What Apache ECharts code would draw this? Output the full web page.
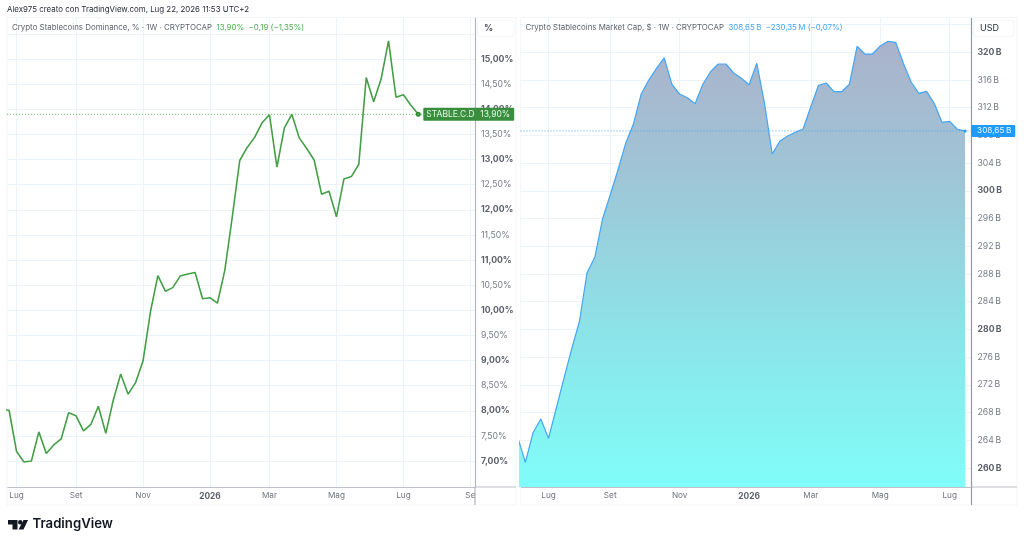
<!DOCTYPE html>
<html>
<head>
<meta charset="utf-8">
<title>Crypto Stablecoins</title>
<script src="https://cdn.jsdelivr.net/npm/echarts@6/dist/echarts.min.js"></script>
<style>
html, body { margin: 0; padding: 0; background: #fff; }
#main { width: 1024px; height: 545px; }
</style>
</head>
<body>
<div id="main"></div>
<script>
// weekly values, first entry sits at the week number in *Start
const dominanceStart = -1;
const dominanceValues = [8.02, 8.01, 7.19, 6.98, 7.00, 7.58, 7.15, 7.32, 7.44, 7.96, 7.90, 7.60, 7.73, 8.09, 7.55, 8.21, 8.73, 8.33, 8.56, 8.99, 9.97, 10.69, 10.38, 10.45, 10.68, 10.72, 10.75, 10.23, 10.25, 10.14, 10.80, 11.86, 12.98, 13.24, 13.44, 13.73, 13.89, 12.85, 13.63, 13.90, 13.43, 13.22, 12.99, 12.31, 12.37, 11.86, 12.61, 12.66, 12.90, 14.63, 14.15, 14.60, 15.36, 14.24, 14.29, 14.08, 13.90];
const capStart = -4;
const capValues = [264.47, 260.82, 265.09, 267.07, 264.28, 268.61, 272.94, 277.17, 281.11, 288.19, 290.41, 295.94, 299.40, 303.01, 306.86, 309.61, 313.94, 316.00, 317.69, 319.18, 315.38, 313.98, 313.45, 312.58, 315.38, 317.20, 318.31, 318.31, 317.01, 316.25, 315.32, 318.41, 312.64, 305.32, 307.20, 307.92, 308.45, 308.93, 312.15, 315.24, 315.57, 314.31, 314.31, 315.38, 320.87, 319.75, 319.75, 320.91, 321.59, 321.44, 318.41, 315.71, 314.08, 314.37, 312.64, 309.89, 310.04, 308.89, 308.65];

const monthLabels = ['Lug', 'Set', 'Nov', '2026', 'Mar', 'Mag', 'Lug', 'Se'];
const dominanceMonthWeeks = [1, 9, 18, 27, 35, 44, 53, 62];
const capMonthWeeks = [0, 8, 17, 26, 34, 43, 52];

const dominanceTicks = [7, 7.5, 8, 8.5, 9, 9.5, 10, 10.5, 11, 11.5, 12, 12.5, 13, 13.5, 14, 14.5, 15, 15.5];
const capTicks = [260, 264, 268, 272, 276, 280, 284, 288, 292, 296, 300, 304, 308, 312, 316, 320, 324];

const FONT = 'Inter, "Liberation Sans", sans-serif';
const GRID_COLOR = '#edf4f9';
const FRAME_COLOR = '#f3f5f8';
const AXIS_COLOR = '#bfc2ca';
const GREEN = '#43a047';
const BLUE = '#42a5f5';

const DOM_X_MIN = -0.28, DOM_X_MAX = 62.62;
const CAP_X_MIN = -3.63, CAP_X_MAX = 54.83;

function comma(v, digits){
    return v.toFixed(digits).replace('.', ',');
}

function toPairs(start, values){
    return values.map(function(v, i){ return [start + i, v]; });
}

function xAxisFor(gridIndex, min, max, weeks){
    return {
        type: 'value', gridIndex: gridIndex, min: min, max: max,
        axisLine: { onZero: false, lineStyle: { color: AXIS_COLOR, width: 1.2 } },
        axisTick: { show: false, customValues: weeks },
        splitLine: { show: true, lineStyle: { color: GRID_COLOR, width: 1 } },
        axisLabel: {
            customValues: weeks, margin: 5, color: '#70737e', fontSize: 8.2, fontFamily: FONT,
            showMinLabel: true, showMaxLabel: true, hideOverlap: false,
            formatter: function(v){
                let label = monthLabels[weeks.indexOf(v)];
                return label === '2026' ? '{b|2026}' : label;
            },
            rich: { b: { fontWeight: 'bold', fontSize: 8.4, color: '#5d606b', fontFamily: FONT } }
        }
    };
}

function yAxisFor(gridIndex, min, max, ticks, format, lineColor){
    return {
        type: 'value', gridIndex: gridIndex, position: 'right', min: min, max: max,
        axisLine: { show: true, onZero: false, lineStyle: { color: lineColor, width: 1.2 } },
        axisTick: { show: false, customValues: ticks },
        splitLine: { show: true, lineStyle: { color: GRID_COLOR, width: 1 } },
        axisLabel: {
            customValues: ticks, margin: 6, color: '#787b86', fontSize: 8.7, fontFamily: FONT,
            formatter: format,
            rich: { b: { fontWeight: 'bold', fontSize: 8.7, color: '#5d606b', fontFamily: FONT } }
        }
    };
}

function formatDominance(v){
    if(v === 15.5) return '';
    let text = comma(v, 2) + '%';
    return v % 1 === 0 ? '{b|' + text + '}' : text;
}

function formatCap(v){
    if(v === 324) return '';
    let text = v + '\u2009B';
    return v % 20 === 0 ? '{b|' + text + '}' : text;
}

function lastPointOnly(count, size){
    return function(value, params){
        return params.dataIndex === count - 1 ? size : 0;
    };
}

function frameLine(x1, y1, x2, y2, color, width){
    return { type: 'line', silent: true, z: 1, shape: { x1: x1, y1: y1, x2: x2, y2: y2 }, style: { stroke: color, lineWidth: width } };
}

function headerText(left, parts){
    return { left: left, top: 24, textStyle: { fontSize: 7.9, fontFamily: FONT, color: '#60636e', fontWeight: 'normal', rich: parts.rich }, text: parts.text, padding: 0 };
}

// dotted last-price line across a pane
function priceLine(axisIndex, xMin, xMax, value, color){
    return {
        type: 'line', xAxisIndex: axisIndex, yAxisIndex: axisIndex, silent: true, z: 6,
        showSymbol: false,
        data: [[xMin, value], [xMax, value]],
        lineStyle: { color: color, type: [1, 2], width: 1 }
    };
}

let option = {
    animation: false,
    backgroundColor: '#fff',
    title: [
        { left: 7, top: 6, padding: 0, text: 'Alex975 creato con TradingView.com, Lug 22, 2026 11:53 UTC+2', textStyle: { fontSize: 7.9, fontWeight: 'normal', color: '#2a2e39', fontFamily: FONT } },
        headerText(12, {
            text: 'Crypto Stablecoins Dominance, % · 1W · CRYPTOCAP  {g|13,90%  −0,19 (−1,35%)}',
            rich: { g: { color: '#4caf50', fontSize: 7.9, fontFamily: FONT } }
        }),
        headerText(525.5, {
            text: 'Crypto Stablecoins Market Cap, $ · 1W · CRYPTOCAP  {c|308,65\u2009B  −230,35\u2009M (−0,07%)}',
            rich: { c: { color: '#3ea6ff', fontSize: 7.9, fontFamily: FONT } }
        }),
        { left: 484, top: 24, padding: 0, text: '%', textStyle: { fontSize: 9, fontWeight: 'bold', color: '#50535e', fontFamily: FONT } },
        { left: 980, top: 24, padding: 0, text: 'USD', textStyle: { fontSize: 9, fontWeight: 'normal', color: '#2a2e39', fontFamily: FONT } },
        { left: 32.5, top: 518, padding: 0, text: 'TradingView', textStyle: { fontSize: 13.2, fontWeight: 600, color: '#131722', fontFamily: FONT } }
    ],
    grid: [
        { left: 7, width: 468, top: 18, height: 469 },
        { left: 520.5, width: 451, top: 18, height: 469 }
    ],
    xAxis: [
        xAxisFor(0, DOM_X_MIN, DOM_X_MAX, dominanceMonthWeeks),
        xAxisFor(1, CAP_X_MIN, CAP_X_MAX, capMonthWeeks)
    ],
    yAxis: [
        yAxisFor(0, 6.483, 15.816, dominanceTicks, formatDominance, '#b2b5be'),
        yAxisFor(1, 257.26, 324.95, capTicks, formatCap, '#9598a1')
    ],
    series: [
        priceLine(0, DOM_X_MIN, DOM_X_MAX, dominanceValues[dominanceValues.length - 1], '#66bb6a'),
        priceLine(1, CAP_X_MIN, CAP_X_MAX, capValues[capValues.length - 1], '#42a5f5'),
        {
            type: 'line', xAxisIndex: 0, yAxisIndex: 0,
            data: toPairs(dominanceStart, dominanceValues),
            clip: true,
            showSymbol: true, showAllSymbol: true, symbol: 'circle',
            symbolSize: lastPointOnly(dominanceValues.length, 5),
            lineStyle: { color: GREEN, width: 1.6 },
            itemStyle: { color: '#388e3c' },
            endLabel: {
                show: true, distance: 5, backgroundColor: '#388e3c', borderRadius: 1, padding: [2, 4, 2, 3],
                formatter: function(p){ return '{a|STABLE.C.D}{v|' + comma(p.value[1], 2) + '%}'; },
                rich: {
                    a: { color: '#e8f5e9', fontSize: 8.5, fontFamily: FONT, width: 54 },
                    v: { color: '#e8f5e9', fontSize: 8.5, fontFamily: FONT }
                }
            },
            z: 5
        },
        {
            type: 'line', xAxisIndex: 1, yAxisIndex: 1,
            data: toPairs(capStart, capValues),
            clip: true,
            showSymbol: true, showAllSymbol: true, symbol: 'circle',
            symbolSize: lastPointOnly(capValues.length, 3),
            lineStyle: { color: BLUE, width: 1.2 },
            itemStyle: { color: '#2196f3' },
            areaStyle: {
                opacity: 1,
                color: new echarts.graphic.LinearGradient(0, 0, 0, 1, [
                    { offset: 0, color: '#aab2cb' },
                    { offset: 0.3, color: '#9fc5d6' },
                    { offset: 0.65, color: '#8ce3e8' },
                    { offset: 1, color: '#80fdf9' }
                ])
            },
            endLabel: {
                show: true, distance: 6, backgroundColor: '#1e9bff', borderRadius: 1, padding: [2, 4, 2, 6],
                formatter: function(p){ return comma(p.value[1], 2) + '\u2009B'; },
                color: '#eaf5ff', fontSize: 8.2, fontFamily: FONT
            },
            z: 5
        }
    ],
    graphic: [
        // pane frames and axis extensions
        frameLine(7, 17.5, 516, 17.5, FRAME_COLOR, 1),
        frameLine(7, 505, 516, 505, FRAME_COLOR, 1),
        frameLine(516, 17.5, 516, 505, FRAME_COLOR, 1),
        frameLine(7, 17.5, 7, 505, FRAME_COLOR, 1),
        frameLine(520.5, 17.5, 1017, 17.5, FRAME_COLOR, 1),
        frameLine(520.5, 505, 1017, 505, FRAME_COLOR, 1),
        frameLine(1017, 17.5, 1017, 505, FRAME_COLOR, 1),
        frameLine(520.5, 17.5, 520.5, 505, FRAME_COLOR, 1),
        frameLine(475, 487, 516, 487, AXIS_COLOR, 1.2),
        frameLine(971.5, 487, 1017, 487, AXIS_COLOR, 1.2),
        frameLine(475, 487, 475, 505, '#b2b5be', 1.2),
        frameLine(971.5, 487, 971.5, 505, '#9598a1', 1.2),
        { type: 'rect', silent: true, shape: { x: 477.5, y: 20.5, width: 36.5, height: 16, r: 3 }, style: { fill: '#fff', stroke: FRAME_COLOR }, z: 2 },
        { type: 'rect', silent: true, shape: { x: 973.5, y: 20.5, width: 40.5, height: 16, r: 3 }, style: { fill: '#fff', stroke: FRAME_COLOR }, z: 2 },
        // TradingView logo
        { type: 'polygon', silent: true, shape: { points: [[8, 520], [17.5, 520], [17.5, 529.5], [12.5, 529.5], [12.5, 524.5], [8, 524.5]] }, style: { fill: '#131722' } },
        { type: 'circle', silent: true, shape: { cx: 20.2, cy: 522.2, r: 2.2 }, style: { fill: '#131722' } },
        { type: 'polygon', silent: true, shape: { points: [[23.5, 520], [28, 520], [23.5, 529.5], [18.6, 529.5]] }, style: { fill: '#131722' } }
    ]
};

let myChart = echarts.init(document.getElementById('main'), null, { renderer: 'canvas' });
myChart.setOption(option);
</script>
</body>
</html>
